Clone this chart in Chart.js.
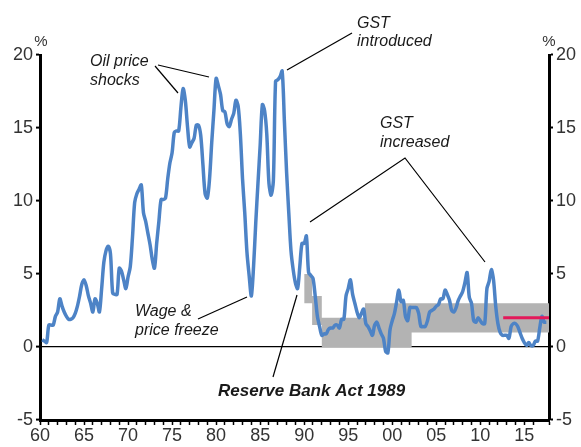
<!DOCTYPE html>
<html>
<head>
<meta charset="utf-8">
<script src="https://cdn.jsdelivr.net/npm/chart.js@4"></script>
<style>
  body { margin: 0; background: #fff; }
</style>
</head>
<body>
<canvas id="cpiChart" width="581" height="447"></canvas>
<script>
// Annual CPI inflation, quarterly, first point 1960 Q2
const cpiStart = 1960.25;
const cpi = [
    0.5, 0.4, 0.3,
    1.5, 1.5, 1.5, 2.1,
    2.4, 3.3, 2.8, 2.4,
    2.1, 1.9, 1.9, 2.0,
    2.3, 2.8, 3.5, 4.3,
    4.6, 4.2, 3.5, 3.0,
    2.4, 3.3, 3.0, 2.4,
    4.0, 5.8, 6.6, 6.9,
    6.4, 3.7, 3.6, 3.6,
    5.4, 5.2, 4.6, 4.0,
    4.8, 5.5, 7.5, 9.9,
    10.5, 10.8, 11.1, 9.2,
    8.6, 7.8, 7.0, 6.0,
    5.4, 7.1, 8.6, 10.1,
    10.1, 10.2, 11.5, 12.6,
    13.3, 14.7, 14.8, 14.8,
    16.4, 17.7, 16.9, 15.1,
    13.7, 14.0, 14.3, 15.2,
    15.2, 14.5, 12.5, 10.5,
    10.2, 11.5, 14.0, 16.2,
    18.4, 17.9, 17.3, 16.2,
    16.1, 15.3, 15.1, 15.6,
    16.0, 16.9, 16.5, 14.6,
    11.5, 9.2, 6.5, 4.9,
    3.5, 5.5, 8.5, 11.2,
    13.8, 16.6, 16.2, 14.6,
    11.2, 10.4, 11.4, 18.2,
    18.3, 18.5, 18.9, 15.5,
    12.0, 9.2, 6.6, 5.3,
    4.4, 4.0, 5.5, 7.1,
    7.1, 7.6, 5.1, 4.9,
    4.7, 3.5, 2.1, 1.4,
    0.8, 0.9, 0.9, 1.2,
    1.3, 1.3, 1.5, 1.5,
    1.3, 1.9, 1.9, 3.5,
    4.0, 4.6, 3.6, 3.0,
    2.4, 2.0, 2.3, 2.6,
    1.6, 1.4, 1.1, 0.8,
    1.5, 1.7, 1.3, 0.9,
    0.6, -0.3, -0.4, 1.2,
    1.8, 2.3, 3.1, 3.9,
    3.1, 3.2, 2.1, 1.8,
    2.7, 2.7, 2.7, 2.7,
    2.3, 1.4, 1.4, 1.4,
    1.8, 2.4, 2.5, 2.6,
    2.8, 2.9, 3.3, 3.3,
    3.9, 3.6, 3.2, 2.5,
    2.4, 2.7, 3.2, 3.5,
    3.8, 4.4, 5.1, 3.4,
    3.0, 1.8, 1.7, 2.0,
    1.8, 1.6, 1.6, 4.0,
    4.5, 5.3, 4.6, 2.8,
    1.6, 1.0, 0.8, 0.8,
    0.8, 0.6, 1.4, 1.6,
    1.6, 1.4, 1.0, 0.6,
    0.3, 0.1, 0.3, 0.1,
    0.1, 0.4, 0.4, 1.3,
    2.1, 1.7, 1.7
];

// Inflation target bands (step changes)
const bandYears = [1990, 1990.9, 1992, 1996.9, 2002.2, 2017.8];
const bandHigh = [5, 3.5, 2, 3, 3, 3];
const bandLow = [3, 1.5, 0, 0, 1, 1];

// 2% midpoint focus
const targetYears = [2012.6, 2017.8];
const targetMid = [2, 2];

const yTicks = [-5, 0, 5, 10, 15, 20];

const cpiPoints = cpi.map((v, i) => ({ x: cpiStart + i * 0.25, y: v }));
const highPoints = bandYears.map((yr, i) => ({ x: yr, y: bandHigh[i] }));
const lowPoints = bandYears.map((yr, i) => ({ x: yr, y: bandLow[i] }));
const midPoints = targetYears.map((yr, i) => ({ x: yr, y: targetMid[i] }));

const FONT = '"Liberation Sans", Arial, sans-serif';

const annotations = {
    id: 'annotations',
    afterDraw(chart) {
        const ctx = chart.ctx;
        ctx.save();
        ctx.fillStyle = '#1a1a1a';
        ctx.textBaseline = 'alphabetic';
        ctx.textAlign = 'left';

        ctx.font = 'italic 16px ' + FONT;
        ctx.fillText('Oil price', 90, 66);
        ctx.fillText('shocks', 90, 85);
        ctx.fillText('GST', 357, 28);
        ctx.fillText('introduced', 357, 46);
        ctx.fillText('GST', 380, 128);
        ctx.fillText('increased', 380, 147);
        ctx.fillText('Wage &', 135, 316);
        ctx.fillText('price freeze', 135, 335);

        ctx.font = 'bold italic 17px ' + FONT;
        ctx.fillText('Reserve Bank Act 1989', 218, 396);

        ctx.font = '15px ' + FONT;
        ctx.textAlign = 'center';
        ctx.fillStyle = '#333';
        ctx.fillText('%', chart.chartArea.left + 1, 46);
        ctx.fillText('%', chart.chartArea.right, 46);

        // leader lines
        ctx.strokeStyle = '#000';
        ctx.lineWidth = 1.2;
        const seg = (pts) => {
            ctx.beginPath();
            ctx.moveTo(pts[0][0], pts[0][1]);
            for (let i = 1; i < pts.length; i++) ctx.lineTo(pts[i][0], pts[i][1]);
            ctx.stroke();
        };
        seg([[155, 66], [178, 93]]);
        seg([[158, 65], [209, 77]]);
        seg([[352, 33], [287, 70]]);
        seg([[310, 222], [405, 158], [485, 262]]);
        seg([[198, 319], [247, 297]]);
        seg([[273, 377], [297, 295]]);
        ctx.restore();
    }
};

const yAxis = (pos, width) => ({
    type: 'linear',
    position: pos,
    min: -5,
    max: 20,
    afterBuildTicks: (s) => { s.ticks = yTicks.map(v => ({ value: v })); },
    afterFit: (s) => { s.width = width; },
    border: { color: '#000', width: 3 },
    grid: {
        drawOnChartArea: pos === 'left',
        color: (c) => (c.tick && c.tick.value === 0 ? '#000' : 'rgba(0,0,0,0)'),
        lineWidth: 1.2,
        tickColor: '#000',
        tickLength: 4,
        tickWidth: 2
    },
    ticks: {
        color: '#333',
        padding: 3,
        font: { family: FONT, size: 18 }
    }
});

new Chart(document.getElementById('cpiChart'), {
    type: 'line',
    data: {
        datasets: [
            {
                label: 'CPI',
                data: cpiPoints,
                borderColor: '#4d83c6',
                borderWidth: 3.5,
                pointRadius: 0,
                tension: 0.3,
                fill: false,
                order: 1
            },
            {
                label: 'Target midpoint',
                data: midPoints,
                borderColor: '#e3195a',
                borderWidth: 3,
                pointRadius: 0,
                fill: false,
                order: 0
            },
            {
                label: 'Target high',
                data: highPoints,
                stepped: true,
                borderWidth: 0,
                borderColor: 'rgba(0,0,0,0)',
                backgroundColor: '#b3b3b3',
                pointRadius: 0,
                fill: 3,
                order: 3
            },
            {
                label: 'Target low',
                data: lowPoints,
                stepped: true,
                borderWidth: 0,
                borderColor: 'rgba(0,0,0,0)',
                pointRadius: 0,
                fill: false,
                order: 4
            }
        ]
    },
    options: {
        responsive: false,
        animation: false,
        layout: { padding: { top: 55, left: 0, right: 0, bottom: 0 } },
        plugins: {
            legend: { display: false },
            tooltip: { enabled: false }
        },
        scales: {
            x: {
                type: 'linear',
                min: 1960,
                max: 2017.8,
                afterFit: (s) => { s.height = 27; },
                border: { color: '#000', width: 3 },
                grid: {
                    drawOnChartArea: false,
                    tickColor: '#000',
                    tickLength: 5,
                    tickWidth: 1.5
                },
                ticks: {
                    stepSize: 1,
                    autoSkip: false,
                    maxRotation: 0,
                    padding: 0,
                    color: '#333',
                    font: { family: FONT, size: 18 },
                    callback: (v) => (v % 5 === 0 ? String(v % 100).padStart(2, '0') : '')
                }
            },
            y: yAxis('left', 40),
            y2: yAxis('right', 32)
        }
    },
    plugins: [annotations]
});
</script>
</body>
</html>
